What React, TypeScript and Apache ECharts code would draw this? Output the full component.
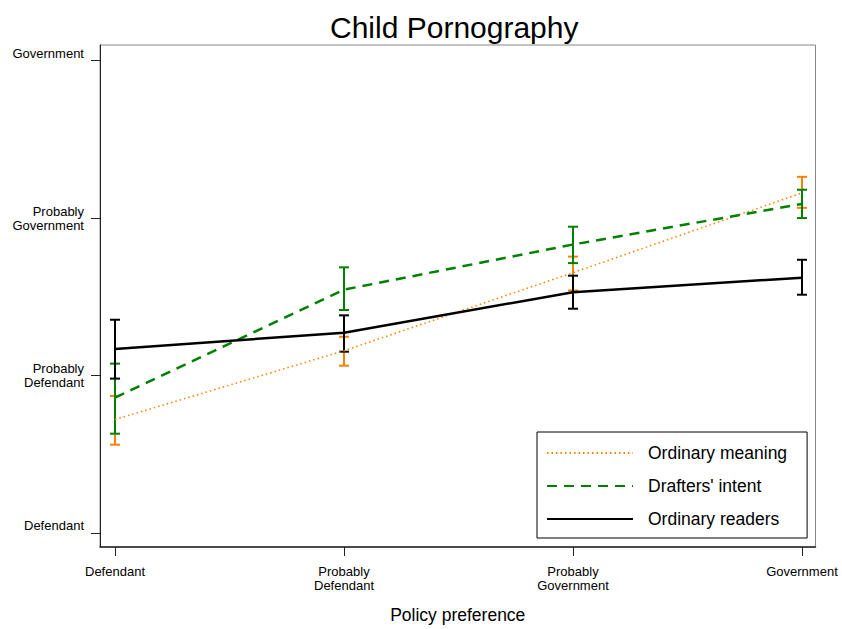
import React, { useEffect, useRef } from "react";
import * as echarts from "echarts";

const xTickValues = [1, 2, 3, 4];
const xTickLabels = ["Defendant", "Probably\nDefendant", "Probably\nGovernment", "Government"];
const yTickValues = [1, 2, 3, 4];
const yTickLabels = ["Defendant\n ", "Probably\nDefendant", "Probably\nGovernment", "Government\n "];

const ordinaryMeaning = [1.72, 2.157, 2.653, 3.16];
const ordinaryMeaningLow = [1.56, 2.062, 2.54, 3.065];
const ordinaryMeaningHigh = [1.87, 2.246, 2.755, 3.262];

const draftersIntent = [1.859, 2.545, 2.832, 3.09];
const draftersIntentLow = [1.63, 2.416, 2.714, 3.0];
const draftersIntentHigh = [2.075, 2.687, 2.945, 3.18];

const ordinaryReaders = [2.168, 2.272, 2.529, 2.621];
const ordinaryReadersLow = [1.98, 2.151, 2.424, 2.513];
const ordinaryReadersHigh = [2.354, 2.382, 2.634, 2.735];

const FONT = 'Arial, "Liberation Sans", sans-serif';
const ORANGE = "#ff8000";
const GREEN = "#008000";
const BLACK = "#000000";

function errorSeries(name: string, low: number[], high: number[], color: string) {
  return {
    name,
    type: "custom",
    coordinateSystem: "cartesian2d",
    encode: { x: 0, y: [1, 2] },
    data: xTickValues.map((x, i) => [x, low[i], high[i]]),
    renderItem: (params: any, api: any) => {
      const x = api.value(0);
      const p1 = api.coord([x, api.value(1)]);
      const p2 = api.coord([x, api.value(2)]);
      const hw = 5;
      const style = { stroke: color, lineWidth: 2 };
      return {
        type: "group",
        children: [
          { type: "line", shape: { x1: p1[0], y1: p1[1], x2: p2[0], y2: p2[1] }, style },
          { type: "line", shape: { x1: p1[0] - hw, y1: p1[1], x2: p1[0] + hw, y2: p1[1] }, style },
          { type: "line", shape: { x1: p2[0] - hw, y1: p2[1], x2: p2[0] + hw, y2: p2[1] }, style },
        ],
      };
    },
    z: 2,
  };
}

function lineSeries(name: string, values: number[], color: string, type: any, width: number) {
  return {
    name,
    type: "line",
    data: xTickValues.map((x, i) => [x, values[i]]),
    symbol: "none",
    showSymbol: false,
    lineStyle: { color, type, width },
    itemStyle: { color },
    z: 3,
  };
}

export default function App() {
  const ref = useRef<HTMLDivElement>(null);
  useEffect(() => {
    if (!ref.current) return;
    const chart = echarts.init(ref.current, undefined, { renderer: "svg" });
    chart.setOption({
      animation: false,
      backgroundColor: "#ffffff",
      textStyle: { fontFamily: FONT, color: "#000" },
      title: {
        text: "Child Pornography",
        left: 325,
        top: 7,
        textStyle: { fontFamily: FONT, fontSize: 30, fontWeight: "normal", color: "#000" },
      },
      grid: {
        left: 100,
        top: 45,
        right: 26.5,
        bottom: 81.5,
        show: true,
        borderColor: "#888",
        borderWidth: 1,
        backgroundColor: "#fff",
      },
      xAxis: {
        type: "value",
        min: 0.9345,
        max: 4.059,
        name: "Policy preference",
        nameLocation: "middle",
        nameGap: 59,
        nameTextStyle: { fontFamily: FONT, fontSize: 17.5, color: "#000" },
        axisLine: { show: true, lineStyle: { color: "#222", width: 1.5 } },
        axisTick: { show: true, length: 9, customValues: xTickValues, lineStyle: { color: "#222" } },
        axisLabel: {
          customValues: xTickValues,
          formatter: (v: number) => xTickLabels[xTickValues.indexOf(Math.round(v))] ?? "",
          fontFamily: FONT,
          fontSize: 13,
          lineHeight: 14,
          margin: 17,
          color: "#000",
        },
        splitLine: { show: false },
      },
      yAxis: {
        type: "value",
        min: 0.91,
        max: 4.0997,
        axisLine: { show: true, lineStyle: { color: "#222", width: 1 } },
        axisTick: { show: true, length: 9, customValues: yTickValues, lineStyle: { color: "#222" } },
        axisLabel: {
          customValues: yTickValues,
          formatter: (v: number) => yTickLabels[yTickValues.indexOf(Math.round(v))] ?? "",
          fontFamily: FONT,
          fontSize: 13,
          lineHeight: 14,
          margin: 16,
          color: "#000",
        },
        splitLine: { show: false },
      },
      legend: {
        data: ["Ordinary meaning", "Drafters' intent", "Ordinary readers"],
        orient: "vertical",
        left: 537,
        top: 432,
        padding: [11, 20, 9, 9],
        itemGap: 13,
        itemWidth: 86,
        itemHeight: 14,
        itemStyle: { opacity: 0 },
        borderColor: "#000",
        borderWidth: 1,
        backgroundColor: "#fff",
        textStyle: { fontFamily: FONT, fontSize: 17.5, lineHeight: 20, color: "#000", padding: [0, 0, 0, 10] },
      },
      series: [
        errorSeries("om_err", ordinaryMeaningLow, ordinaryMeaningHigh, ORANGE),
        lineSeries("Ordinary meaning", ordinaryMeaning, ORANGE, [1.5, 3], 1.5),
        errorSeries("di_err", draftersIntentLow, draftersIntentHigh, GREEN),
        lineSeries("Drafters' intent", draftersIntent, GREEN, [10, 7], 2.5),
        errorSeries("or_err", ordinaryReadersLow, ordinaryReadersHigh, BLACK),
        lineSeries("Ordinary readers", ordinaryReaders, BLACK, "solid", 2.5),
      ],
    });
    return () => chart.dispose();
  }, []);
  return (
    <div
      ref={ref}
      style={{ position: "fixed", left: 0, top: 0, width: 842, height: 629, background: "#fff" }}
    />
  );
}
